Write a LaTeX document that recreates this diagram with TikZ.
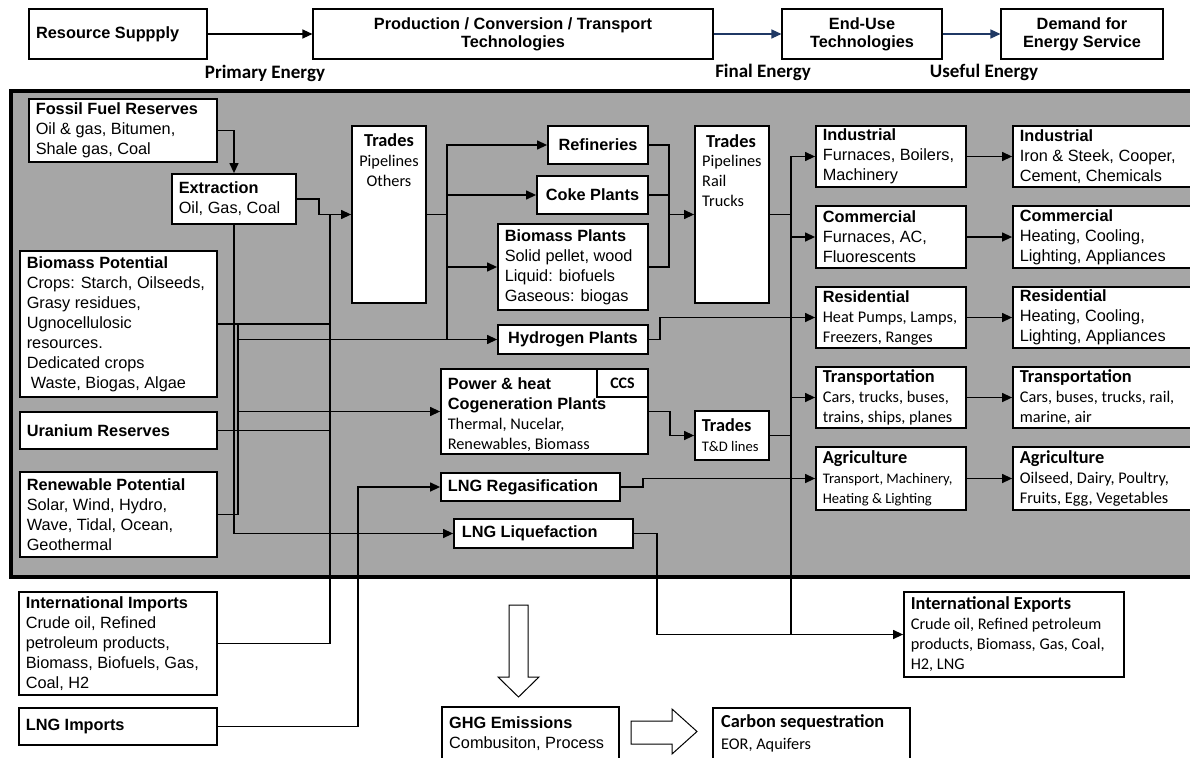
\documentclass[tikz,border=0pt]{standalone}
\usepackage{fontspec}
\setmainfont{Liberation Sans}
\newfontfamily\calib{Carlito}
\usetikzlibrary{arrows.meta}
\definecolor{bgray}{RGB}{166,166,166}
\definecolor{navy}{RGB}{31,56,100}
% text faces: Arial-like titles/body, Calibri-like titles/body
\newcommand\hA{\rmfamily\fontsize{16.3}{20}\selectfont\bfseries}
\newcommand\bA{\rmfamily\fontsize{16.3}{20}\selectfont\mdseries}
\newcommand\hT{\rmfamily\fontsize{16.3}{18}\selectfont\bfseries}
\newcommand\hC{\calib\fontsize{18.3}{20}\selectfont\bfseries}
\newcommand\bC{\calib\fontsize{16.3}{20}\selectfont\mdseries}
\newcommand\sC{\calib\fontsize{14.6}{19}\selectfont\mdseries}
\tikzset{
  boxst/.style={draw, fill=white, line width=1.8pt, inner sep=0pt},
  topbox/.style={draw, fill=white, line width=1.1pt, inner sep=0pt, font=\fontsize{16.3}{18}\selectfont},
  txt/.style={inner sep=0pt, align=left, font=\fontsize{16.3}{20}\selectfont},
  conn/.style={line width=1.3pt},
  arr/.style={conn, -{Triangle[length=10pt,width=9pt]}},
  navyarr/.style={line width=1.3pt, draw=navy, -{Triangle[length=10pt,width=9pt]}, navy},
  hollow/.style={draw, fill=white, line width=1pt},
  lbl/.style={inner sep=0pt, font=\calib\bfseries\fontsize{19}{20}\selectfont}
}
% box with left-aligned text: name, x1, y1, x2, y2, text options, text
\newcommand\drawbox[7]{%
  \pgfmathsetmacro\bxw{#4-#2}\pgfmathsetmacro\bxh{#5-#3}%
  \pgfmathsetmacro\bxcx{(#2+#4)/2}\pgfmathsetmacro\bxcy{(#3+#5)/2}%
  \node[boxst,minimum width=\bxw pt,minimum height=\bxh pt] (#1) at (\bxcx,\bxcy) {};%
  \node[txt,anchor=west,#6] (#1-t) at ([xshift=7.5pt]#1.west) {#7};}
% box with centred text
\newcommand\drawboxc[7]{%
  \pgfmathsetmacro\bxw{#4-#2}\pgfmathsetmacro\bxh{#5-#3}%
  \pgfmathsetmacro\bxcx{(#2+#4)/2}\pgfmathsetmacro\bxcy{(#3+#5)/2}%
  \node[boxst,minimum width=\bxw pt,minimum height=\bxh pt] (#1) at (\bxcx,\bxcy) {};%
  \node[txt,align=center,#6] (#1-t) at (#1.center) {#7};}
% box whose text is placed separately
\newcommand\emptybox[5]{%
  \pgfmathsetmacro\bxw{#4-#2}\pgfmathsetmacro\bxh{#5-#3}%
  \pgfmathsetmacro\bxcx{(#2+#4)/2}\pgfmathsetmacro\bxcy{(#3+#5)/2}%
  \node[boxst,minimum width=\bxw pt,minimum height=\bxh pt] (#1) at (\bxcx,\bxcy) {};}
\begin{document}
\begin{tikzpicture}[x=1pt,y=-1pt]
\useasboundingbox (0,0) rectangle (1190,757);
\clip (0,0) rectangle (1190,757);
\fill[white] (0,0) rectangle (1190,757);

% ---------- top chain ----------
\node[topbox,minimum width=178pt,minimum height=50pt] (rs) at (118,34) {};
\node[txt,anchor=west] (rs-t) at ([xshift=7.5pt]rs.west) {\hT Resource Suppply};
\node[topbox,minimum width=400pt,minimum height=50pt,align=center] (pct) at (513,34) {\hT Production / Conversion / Transport\\\hT Technologies};
\node[topbox,minimum width=160pt,minimum height=50pt,align=center] (eut) at (862,34) {\hT End-Use\\\hT Technologies};
\node[topbox,minimum width=162pt,minimum height=50pt,align=center] (des) at (1082,34) {\hT Demand for\\\hT Energy Service};
\draw[arr] (rs.east) -- (pct.west);
\draw[navyarr] (pct.east) -- (eut.west);
\draw[navyarr] (eut.east) -- (des.west);
\node[lbl] (pe) at (265,73) {Primary Energy};
\node[lbl] (fe) at (763,72) {Final Energy};
\node[lbl] (ue) at (984,72) {Useful Energy};

% ---------- energy system panel ----------
\draw[line width=3.5pt, fill=bgray] (11,91) rectangle (1215,577);

% resources
\drawbox{fossil}{29}{99}{217}{162}{}{\hA Fossil Fuel Reserves\\\bA Oil \& gas, Bitumen,\\\bA Shale gas, Coal}
\drawbox{extr}{172}{174}{296}{224}{}{\hA Extraction\\\bA Oil, Gas, Coal}
\drawbox{biopot}{20}{251}{217}{397}{}{\hA Biomass Potential\\\bA Crops: Starch, Oilseeds,\\\bA Grasy residues,\\\bA Ugnocellulosic\\\bA resources.\\\bA Dedicated crops\\\bA\hspace*{4pt}Waste, Biogas, Algae}
\drawbox{uran}{20}{412}{217}{449}{}{\hA Uranium Reserves}
\drawbox{renew}{20}{472}{217}{557}{}{\hA Renewable Potential\\\bA Solar, Wind, Hydro,\\\bA Wave, Tidal, Ocean,\\\bA Geothermal}

% conversion
\emptybox{tradesA}{352}{126}{426}{303}
\node[txt,align=center,anchor=north] (tradesA-t) at (389,133) {\hC Trades\\\bC Pipelines\\\bC Others};
\drawboxc{refin}{548}{126}{648}{164}{}{\hA Refineries}
\drawboxc{coke}{537}{176}{648}{214}{}{\hA Coke Plants}
\drawbox{biopl}{498}{224}{648}{310}{}{\hA Biomass Plants\\\bA Solid pellet, wood\\\bA Liquid: biofuels\\\bA Gaseous: biogas}
\drawboxc{hydro}{498}{325}{648}{354}{}{\hA Hydrogen Plants}
\drawbox{power}{441}{369}{648}{454}{yshift=-3pt}{\hA Power \& heat\\\hA Cogeneration Plants\\\bC Thermal, Nucelar,\\\bC Renewables, Biomass}
\drawboxc{ccs}{597}{369}{648}{397}{}{\calib\bfseries\fontsize{16}{18}\selectfont CCS}
\drawbox{regas}{441}{473}{620}{501}{}{\hA LNG Regasification}
\drawbox{liquef}{454}{519}{633}{548}{xshift=1pt}{\hA LNG Liquefaction}
\emptybox{tradesB}{695}{126}{769}{303}
\node[txt,anchor=north] (tradesB-h) at (731,134) {\hC Trades};
\node[txt,anchor=north west] (tradesB-t) at (702,155) {\bC Pipelines\\\bC Rail\\\bC Trucks};
\drawbox{tradesC}{695}{411}{769}{460}{}{\hC Trades\\\sC T\&D lines}

% end-use technologies
\drawbox{ind}{816}{126}{966}{187}{}{\hA Industrial\\\bA Furnaces, Boilers,\\\bA Machinery}
\drawbox{com}{816}{206}{966}{268}{}{\hA Commercial\\\bA Furnaces, AC,\\\bA Fluorescents}
\drawbox{res}{816}{287}{966}{348}{}{\hA Residential\\\bC Heat Pumps, Lamps,\\\bC Freezers, Ranges}
\drawbox{tra}{816}{367}{966}{428}{}{\hC Transportation\\\bC Cars, trucks, buses,\\\bC trains, ships, planes}
\drawbox{agr}{816}{447}{966}{510}{}{\hC Agriculture\\\sC Transport, Machinery,\\\sC Heating \& Lighting}

% energy services
\drawbox{sind}{1013}{126}{1215}{187}{}{\hA Industrial\\\bA Iron \& Steek, Cooper,\\\bA Cement, Chemicals}
\drawbox{scom}{1013}{206}{1215}{268}{}{\hA Commercial\\\bA Heating, Cooling,\\\bA Lighting, Appliances}
\drawbox{sres}{1013}{287}{1215}{348}{}{\hA Residential\\\bA Heating, Cooling,\\\bA Lighting, Appliances}
\drawbox{stra}{1013}{367}{1215}{428}{}{\hC Transportation\\\bC Cars, buses, trucks, rail,\\\bC marine, air}
\drawbox{sagr}{1013}{447}{1215}{510}{}{\hC Agriculture\\\bC Oilseed, Dairy, Poultry,\\\bC Fruits, Egg, Vegetables}

% outside the panel
\drawbox{imp}{19}{592}{217}{695}{}{\hA International Imports\\\bA Crude oil, Refined\\\bA petroleum products,\\\bA Biomass, Biofuels, Gas,\\\bA Coal, H2}
\drawbox{lngimp}{19}{708}{217}{745}{}{\hA LNG Imports}
\drawbox{exp}{904}{592}{1124}{677}{}{\hC International Exports\\\bC Crude oil, Refined petroleum\\\bC products, Biomass, Gas, Coal,\\\bC H2, LNG}
\emptybox{ghg}{442}{707}{619}{790}
\node[txt,anchor=north west] (ghg-t) at (449,716) {\hA GHG Emissions\\\bA Combusiton, Process};
\emptybox{carb}{713}{708}{910}{790}
\node[txt,anchor=north west] (carb-t) at (721,714) {\hC Carbon sequestration\\[2pt]\bC EOR, Aquifers};

% ---------- junction points ----------
\coordinate (jA) at (330,214.5);
\coordinate (jB) at (238,324.5);
\coordinate (jC) at (358,487);
\coordinate (jD) at (447,214.5);
\coordinate (jE) at (669,214.5);
\coordinate (jF) at (791,214.5);

% ---------- primary supply connectors ----------
\draw[arr] (fossil.east) -| (extr.north);
\draw[arr] (extr.east) -- ++(22,0) |- (tradesA.west);
\draw[conn] (imp.east) -| (jA);
\draw[conn] (biopot.east) -- (biopot.east -| jA);
\draw[conn] (uran.east) -- (uran.east -| jA);
\draw[conn] (renew.east) -| (jB);
\draw[arr] (jB |- hydro.west) -- (hydro.west);
\draw[arr] (jB |- power.west) -- (power.west);
\draw[arr] (extr.south) |- (liquef.west);
\draw[arr] (lngimp.east) -| (jC) -- (regas.west);

% ---------- conversion connectors ----------
\draw[conn] (tradesA.east) -- (jD);
\draw[arr] (jD) |- (refin.west);
\draw[arr] (jD) |- (coke.west);
\draw[arr] (jD) |- (biopl.west);
\draw[conn] (jD) -- (jD |- hydro.west);
\draw[conn] (refin.east) -| (jE);
\draw[conn] (coke.east) -| (jE);
\draw[conn] (biopl.east) -| (jE);
\draw[arr] (jE) -- (tradesB.west);
\draw[arr] (power.east) -- ++(21,0) |- (tradesC.west);

% ---------- final energy distribution ----------
\draw[conn] (tradesB.east) -- (jF);
\draw[conn] (tradesC.east) -- (tradesC.east -| jF);
\draw[arr] (jF) |- (ind.west);
\draw[arr] (jF) |- (com.west);
\draw[arr] (jF |- tra.west) -- (tra.west);
\draw[conn] (jF) -- (jF |- exp.west);
\draw[arr] (hydro.east) -- ++(11,0) |- (res.west);
\draw[arr] (regas.east) -- ++(22,0) |- (agr.west);
\draw[arr] (liquef.east) -- ++(23,0) |- (exp.west);

% ---------- end-use to services ----------
\draw[arr] (ind.east) -- (sind.west);
\draw[arr] (com.east) -- (scom.west);
\draw[arr] (res.east) -- (sres.west);
\draw[arr] (tra.east) -- (stra.west);
\draw[arr] (agr.east) -- (sagr.west);

% ---------- emissions block arrows ----------
\draw[hollow] (509,605) -- (528,605) -- (528,677) -- (539,677) -- (518.5,697) -- (498,677) -- (509,677) -- cycle;
\draw[hollow] (631,721) -- (672,721) -- (672,709) -- (697,731.5) -- (672,754) -- (672,744) -- (631,744) -- cycle;
\end{tikzpicture}
\end{document}
